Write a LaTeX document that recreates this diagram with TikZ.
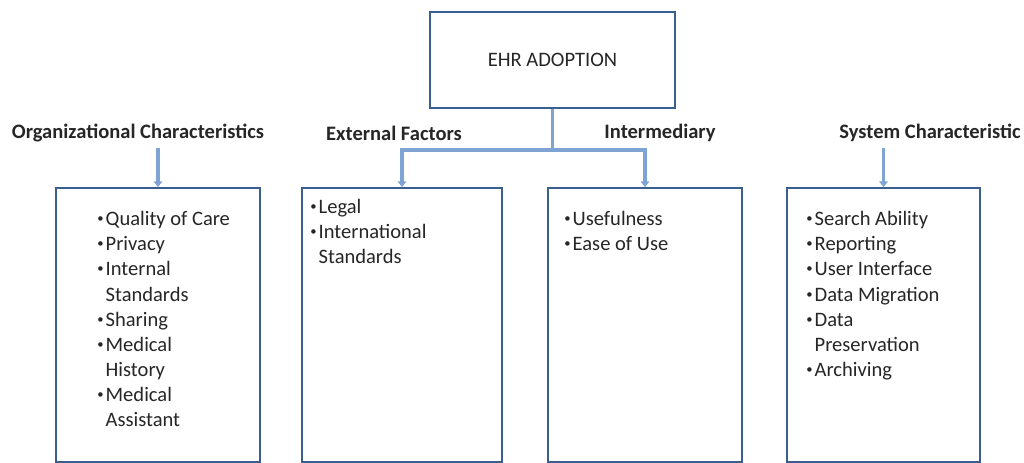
\documentclass[tikz,border=0pt]{standalone}
\usepackage{fontspec}
\setmainfont{Carlito}
\usepackage{tikz}
\usetikzlibrary{arrows.meta,positioning}
\definecolor{boxblue}{HTML}{3A5F8E}
\definecolor{linkblue}{HTML}{7FA3D2}
\tikzset{
  catbox/.style={draw=boxblue,line width=1.3pt,fill=white,minimum height=6.85cm},
  catlabel/.style={font=\fontsize{14.6}{16}\selectfont\bfseries,text=black!85},
  itemlist/.style={anchor=north west,inner sep=0pt,align=left,font=\fontsize{14.6}{17.9}\selectfont,text=black!85},
  link/.style={draw=linkblue,line width=2.2pt},
  tolink/.style={link,-{Triangle[width=6pt,length=4pt]}}
}
\newcommand{\bul}{\raisebox{0.3ex}{\fontsize{9}{9}\selectfont\textbullet}\hspace{1.5pt}}
\newcommand{\hang}{\hphantom{\bul}}

\begin{document}
\begin{tikzpicture}[x=0.025cm,y=-0.025cm]
  \useasboundingbox (0,0) rectangle (1024,462);
  % top box
  \node[draw=boxblue,line width=1.3pt,fill=white,minimum width=6.125cm,minimum height=2.4cm,
        font=\fontsize{14.6}{16}\selectfont,text=black!85] (ehr) at (552.5,60) {EHR ADOPTION};
  % category boxes
  \node[catbox,minimum width=5.1cm]   (org)   at (158,325) {};
  \node[catbox,minimum width=5.0cm]   (ext)   at (402,325) {};
  \node[catbox,minimum width=4.85cm]  (inter) at (645,325) {};
  \node[catbox,minimum width=4.825cm] (sys)   at (883.5,325) {};
  % labels
  \node[catlabel] (orglbl)   at (138,133) {Organizational Characteristics};
  \node[catlabel] (extlbl)   at (394,133) {External Factors};
  \node[catlabel] (interlbl) at (660,133) {Intermediary};
  \node[catlabel] (syslbl)   at (930,133) {System Characteristic};
  % connectors
  \coordinate (split) at (ehr.south |- 0,150);
  \draw[link] (ehr.south) -- (split);
  \draw[tolink] (split) -| (ext.north);
  \draw[tolink] (split) -| (inter.north);
  \draw[tolink] (org.north |- 0,148) -- (org.north);
  \draw[tolink] (sys.north |- 0,148) -- (sys.north);
  % items
  \node[itemlist] (orgitems) at (97,211) {\bul Quality of Care\\ \bul Privacy\\ \bul Internal\\ \hang Standards\\
    \bul Sharing\\ \bul Medical\\ \hang History\\ \bul Medical\\ \hang Assistant};
  \node[itemlist] (extitems) at (310,199) {\bul Legal\\ \bul International\\ \hang Standards};
  \node[itemlist] (interitems) at (564,211) {\bul Usefulness\\ \bul Ease of Use};
  \node[itemlist] (sysitems) at (806,211) {\bul Search Ability\\ \bul Reporting\\ \bul User Interface\\
    \bul Data Migration\\ \bul Data\\ \hang Preservation\\ \bul Archiving};
\end{tikzpicture}
\end{document}
